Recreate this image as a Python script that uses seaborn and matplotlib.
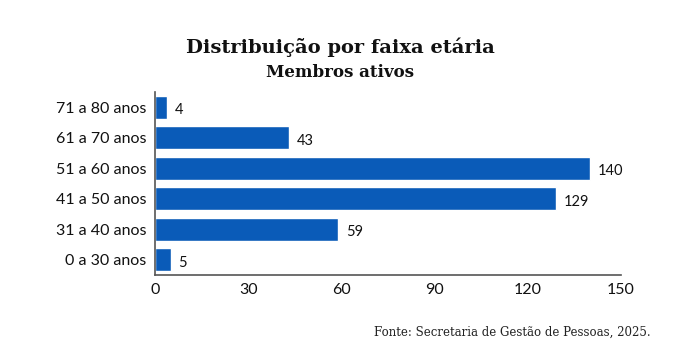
import pandas as pd
import matplotlib.pyplot as plt
import seaborn as sns

# Data
faixas = ['71 a 80 anos', '61 a 70 anos', '51 a 60 anos', '41 a 50 anos', '31 a 40 anos', '0 a 30 anos']
membros = [4, 43, 140, 129, 59, 5]
x_ticks = [0, 30, 60, 90, 120, 150]

df = pd.DataFrame({'faixa': faixas, 'membros': membros})

sns.set_style('white')
plt.rcParams['font.family'] = ['Lato', 'DejaVu Sans']

fig = plt.figure(figsize=(6.85, 3.63), dpi=100)
ax = fig.add_axes([0.2263, 0.2424, 0.6803, 0.504])

sns.barplot(data=df, x='membros', y='faixa', orient='h', color='#0A5BB8',
            width=0.76, saturation=1, ax=ax)

# value labels
for i, v in enumerate(membros):
    ax.text(v + 2.5, i + 0.1, str(v), va='center', ha='left', fontsize=10.5, color='#111111')

ax.set_xlim(0, 150)
ax.set_ylim(5.5, -0.5)
ax.set_xticks(x_ticks)
ax.set_xlabel('')
ax.set_ylabel('')
ax.tick_params(axis='x', direction='in', length=4, width=1, color='#555555',
               labelsize=11.5, pad=6, labelcolor='#111111')
ax.tick_params(axis='y', length=0, labelsize=11.5, pad=6, labelcolor='#111111')

for s in ['top', 'right']:
    ax.spines[s].set_visible(False)
for s in ['left', 'bottom']:
    ax.spines[s].set_color('#555555')
    ax.spines[s].set_linewidth(1.2)

fig.text(0.497, 0.87, 'Distribuição por faixa etária', ha='center', va='center',
         fontsize=14, fontweight='bold', family='DejaVu Serif', color='#111111')
fig.text(0.497, 0.80, 'Membros ativos', ha='center', va='center',
         fontsize=12, fontweight='bold', family='DejaVu Serif', color='#111111')
fig.text(0.95, 0.085, 'Fonte: Secretaria de Gestão de Pessoas, 2025.', ha='right', va='center',
         fontsize=8.5, family='DejaVu Serif', color='#222222')

fig.savefig('out.png', dpi=100, facecolor='white')
